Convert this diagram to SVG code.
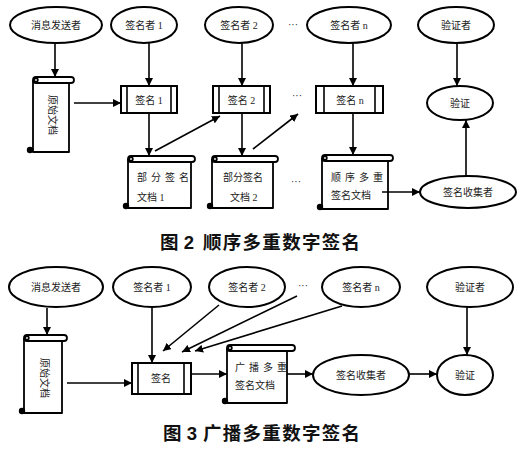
<svg xmlns="http://www.w3.org/2000/svg" width="521" height="449" viewBox="0 0 521 449">
<defs>
<style>
.el{fill:#fff;stroke:#000;stroke-width:2}
.bx{fill:#fff;stroke:#000;stroke-width:2}
.in{stroke:#000;stroke-width:1.6;fill:none}
.sc{fill:#fff;stroke:#000;stroke-width:1.8;stroke-linejoin:round}
.dot{fill:#000}
.ln{stroke:#000;stroke-width:1.6;fill:none;marker-end:url(#ah)}
.t{font-family:"Liberation Serif","Noto Sans CJK SC",serif;font-size:10px;fill:#222;text-anchor:middle;dominant-baseline:central}
.tl{font-family:"Liberation Serif","Noto Sans CJK SC",serif;font-size:10px;fill:#222;dominant-baseline:central}
.cap{font-family:"Liberation Sans","Noto Sans CJK SC",sans-serif;font-size:18.5px;font-weight:bold;fill:#111;dominant-baseline:central}
.dots{font-family:"Liberation Serif",serif;font-size:10px;fill:#222;text-anchor:middle}
</style>
<marker id="ah" viewBox="0 0 10 10" refX="10" refY="5" markerWidth="8" markerHeight="8" markerUnits="userSpaceOnUse" orient="auto">
<path d="M0,0 L10,5 L0,10 z" fill="#000"/>
</marker>
</defs>

<!-- ================= Figure 2 ================= -->
<g id="f2-sender"><ellipse class="el" cx="56" cy="25" rx="46" ry="18"/><text class="t" x="56" y="25">消息发送者</text></g>
<g id="f2-signer1"><ellipse class="el" cx="144" cy="25" rx="33" ry="18"/><text class="t" x="144" y="25">签名者 1</text></g>
<g id="f2-signer2"><ellipse class="el" cx="239" cy="25" rx="34" ry="18"/><text class="t" x="239" y="25">签名者 2</text></g>
<g id="f2-signern"><ellipse class="el" cx="349" cy="25" rx="42" ry="18"/><text class="t" x="349" y="25">签名者 n</text></g>
<g id="f2-verifier"><ellipse class="el" cx="456" cy="25" rx="38" ry="18"/><text class="t" x="456" y="25">验证者</text></g>
<text class="dots" x="293" y="28">···</text>

<g id="f2-origdoc">
<path class="sc" d="M33,80 V152 H69 V83"/>
<rect class="sc" x="33" y="77" width="41" height="6" rx="3"/>
<circle class="sc" cx="36" cy="80" r="1.8"/>
<circle class="dot" cx="30" cy="150" r="3.2"/>
<text class="t" transform="translate(52,115) rotate(90)" x="0" y="0">原始文档</text>
</g>

<g id="f2-sign1"><rect class="bx" x="121" y="86" width="56" height="27"/><path class="in" d="M127,86V113M171,86V113"/><text class="t" x="149" y="100">签名 1</text></g>
<g id="f2-sign2"><rect class="bx" x="213" y="86" width="57" height="27"/><path class="in" d="M219,86V113M264,86V113"/><text class="t" x="241.5" y="100">签名 2</text></g>
<g id="f2-signn"><rect class="bx" x="316" y="86" width="67" height="27"/><path class="in" d="M324,86V113M375,86V113"/><text class="t" x="350" y="100">签名 n</text></g>
<text class="dots" x="297" y="99">···</text>
<g id="f2-verify"><ellipse class="el" cx="460" cy="103" rx="33" ry="17"/><text class="t" x="460" y="103">验证</text></g>

<g id="f2-doc1">
<path class="sc" d="M128,159 V208 H191 V162"/>
<rect class="sc" x="128" y="156" width="67" height="6" rx="3"/>
<circle class="sc" cx="131" cy="159" r="1.8"/>
<circle class="dot" cx="126" cy="206" r="3.2"/>
<text class="tl" x="137" y="177" letter-spacing="4">部分签名</text>
<text class="tl" x="137" y="197">文档 1</text>
</g>
<g id="f2-doc2">
<path class="sc" d="M212,159 V208 H273 V162"/>
<rect class="sc" x="212" y="156" width="66" height="6" rx="3"/>
<circle class="sc" cx="215" cy="159" r="1.8"/>
<circle class="dot" cx="210" cy="206" r="3.2"/>
<text class="tl" x="223" y="177">部分签名</text>
<text class="tl" x="230" y="197">文档 2</text>
</g>
<text class="dots" x="296" y="185">···</text>
<g id="f2-docn">
<path class="sc" d="M322,158 V209 H388 V161"/>
<rect class="sc" x="322" y="155" width="71" height="6" rx="3"/>
<circle class="sc" cx="325" cy="158" r="1.8"/>
<circle class="dot" cx="320" cy="207" r="3.2"/>
<text class="tl" x="331" y="177" letter-spacing="4">顺序多重</text>
<text class="tl" x="331" y="195">签名文档</text>
</g>
<g id="f2-collector"><ellipse class="el" cx="468" cy="192" rx="48" ry="16"/><text class="t" x="468" y="192">签名收集者</text></g>

<g id="f2-connectors">
<path class="ln" d="M55,43 V77"/>
<path class="ln" d="M149,43 V86"/>
<path class="ln" d="M242,43 V86"/>
<path class="ln" d="M353,43 V86"/>
<path class="ln" d="M457,43 V86"/>
<path class="ln" d="M74,103 H121"/>
<path class="ln" d="M149,113 V156"/>
<path class="ln" d="M242,113 V156"/>
<path class="ln" d="M353,113 V155"/>
<path class="ln" d="M155,151 L220,116"/>
<path class="ln" d="M253,149 L298,114"/>
<path class="ln" d="M382,192 H420"/>
<path class="ln" d="M466,176 V120"/>
</g>

<g id="caption2"><text class="cap" x="160" y="242">图 2</text><text class="cap" x="203" y="242" textLength="157" lengthAdjust="spacing">顺序多重数字签名</text></g>

<!-- ================= Figure 3 ================= -->
<g id="f3-sender"><ellipse class="el" cx="56" cy="287" rx="47" ry="20"/><text class="t" x="56" y="287">消息发送者</text></g>
<g id="f3-signer1"><ellipse class="el" cx="152" cy="287" rx="39" ry="20"/><text class="t" x="152" y="287">签名者 1</text></g>
<g id="f3-signer2"><ellipse class="el" cx="247" cy="287" rx="38" ry="20"/><text class="t" x="247" y="287">签名者 2</text></g>
<text class="dots" x="303" y="289">···</text>
<g id="f3-signern"><ellipse class="el" cx="361" cy="287" rx="39" ry="20"/><text class="t" x="361" y="287">签名者 n</text></g>
<g id="f3-verifier"><ellipse class="el" cx="470" cy="287" rx="43" ry="20"/><text class="t" x="470" y="287">验证者</text></g>

<g id="f3-origdoc">
<path class="sc" d="M24,338 V413 H62 V341"/>
<rect class="sc" x="24" y="335" width="43" height="6" rx="3"/>
<circle class="sc" cx="27" cy="338" r="1.8"/>
<circle class="dot" cx="22" cy="411" r="3.2"/>
<text class="t" transform="translate(44,378) rotate(90)" x="0" y="0">原始文档</text>
</g>

<g id="f3-sign"><rect class="bx" x="132" y="363" width="59" height="31"/><path class="in" d="M138,363V394M184,363V394"/><text class="t" x="161" y="378">签名</text></g>

<g id="f3-doc">
<path class="sc" d="M227,348 V403 H287 V351"/>
<rect class="sc" x="227" y="345" width="68" height="6" rx="3"/>
<circle class="sc" cx="230" cy="348" r="1.8"/>
<circle class="dot" cx="225" cy="401" r="3.2"/>
<text class="tl" x="235" y="367" letter-spacing="4">广播多重</text>
<text class="tl" x="235" y="385">签名文档</text>
</g>
<g id="f3-collector"><ellipse class="el" cx="361" cy="375" rx="48" ry="20"/><text class="t" x="361" y="375">签名收集者</text></g>
<g id="f3-verify"><ellipse class="el" cx="465" cy="375" rx="28" ry="20"/><text class="t" x="465" y="375">验证</text></g>

<g id="f3-connectors">
<path class="ln" d="M47,308 V335"/>
<path class="ln" d="M152,307 V363"/>
<path class="ln" d="M219,305 L163,351"/>
<path class="ln" d="M297,296 L182,352"/>
<path class="ln" d="M342,306 L195,351"/>
<path class="ln" d="M467,307 V355"/>
<path class="ln" d="M67,383 H132"/>
<path class="ln" d="M191,374 H227"/>
<path class="ln" d="M287,374 H313"/>
<path class="ln" d="M409,374 H437"/>
</g>

<g id="caption3"><text class="cap" x="163" y="433">图 3</text><text class="cap" x="203" y="433" textLength="157" lengthAdjust="spacing">广播多重数字签名</text></g>
</svg>
